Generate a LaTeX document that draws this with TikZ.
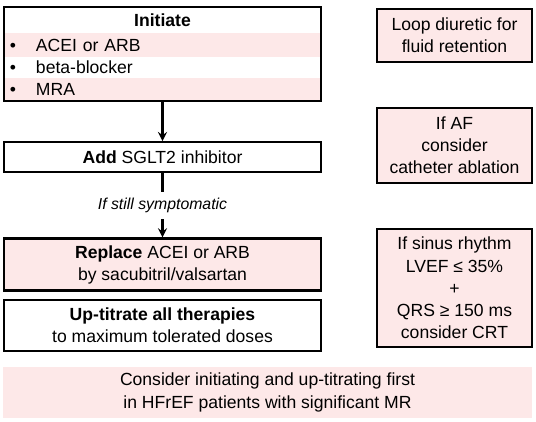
\documentclass[tikz,border=0pt]{standalone}
\usepackage{fontspec}
\setmainfont{Liberation Sans}
\usepackage{xcolor}
\usetikzlibrary{arrows, positioning, fit}
\definecolor{rowpink}{RGB}{253, 232, 232}
\newcommand{\bulletitem}[1]{\makebox[0.64cm][l]{\hspace{0.12cm}\textbullet}#1}

\begin{document}
\begin{tikzpicture}[
    font=\fontsize{10}{12.6}\selectfont,
    row/.style={rectangle, inner sep=0pt, outer sep=0pt, text width=6.34cm, align=left},
    stepbox/.style={rectangle, draw=black, line width=1.3pt, minimum width=6.34cm, inner sep=0pt, align=center},
    sidebox/.style={rectangle, draw=black, line width=1.3pt, fill=rowpink, minimum width=3.1cm, inner sep=0pt, align=center},
    arrow/.style={->, line width=1.3pt, >=stealth}
]
    \useasboundingbox (0,0) rectangle (10.72,-8.44);

    % Initiate block
    \node[row, align=center, minimum height=0.52cm] (title) at (3.25,-0.4) {\textbf{Initiate}};
    \node[row, fill=rowpink, minimum height=0.48cm, below=0cm of title] (acei) {\bulletitem{ACEI or ARB}};
    \node[row, minimum height=0.42cm, below=0cm of acei] (beta) {\bulletitem{beta-blocker}};
    \node[row, fill=rowpink, minimum height=0.46cm, below=0cm of beta] (mra) {\bulletitem{MRA}};
    \node[fit=(title)(mra), draw, line width=1.3pt, inner sep=0pt] (initbox) {};

    % Main steps
    \node[stepbox, minimum height=0.6cm, below=0.78cm of initbox] (add) {\textbf{Add} SGLT2 inhibitor};
    \node[stepbox, fill=rowpink, minimum height=1.04cm, below=1.28cm of add] (replace) {\textbf{Replace} ACEI or ARB\\by sacubitril/valsartan};
    \node[stepbox, minimum height=1.02cm, below=0.14cm of replace] (uptitrate) {\textbf{Up-titrate all therapies}\\to maximum tolerated doses};

    \draw[arrow] (initbox) -- (add);
    \draw[arrow] (add) -- node[fill=white, font=\fontsize{9}{11}\selectfont\itshape, inner sep=0.12cm] {If still symptomatic} (replace);

    % Side options
    \node[sidebox, minimum height=1.06cm] (diuretic) at (9.09,-0.71) {Loop diuretic for\\fluid retention};
    \node[sidebox, minimum height=1.5cm] (ablation) at (9.09,-2.91) {If AF\\consider\\catheter ablation};
    \node[sidebox, minimum height=2.36cm] (crt) at (9.09,-5.76) {If sinus rhythm\\LVEF ≤ 35\%\\+\\QRS ≥ 150 ms\\consider CRT};

    % Note
    \node[rectangle, fill=rowpink, minimum width=10.58cm, minimum height=1.02cm, align=center] (mrnote) at (5.35,-7.85) {Consider initiating and up-titrating first\\in HFrEF patients with significant MR};
\end{tikzpicture}
\end{document}
